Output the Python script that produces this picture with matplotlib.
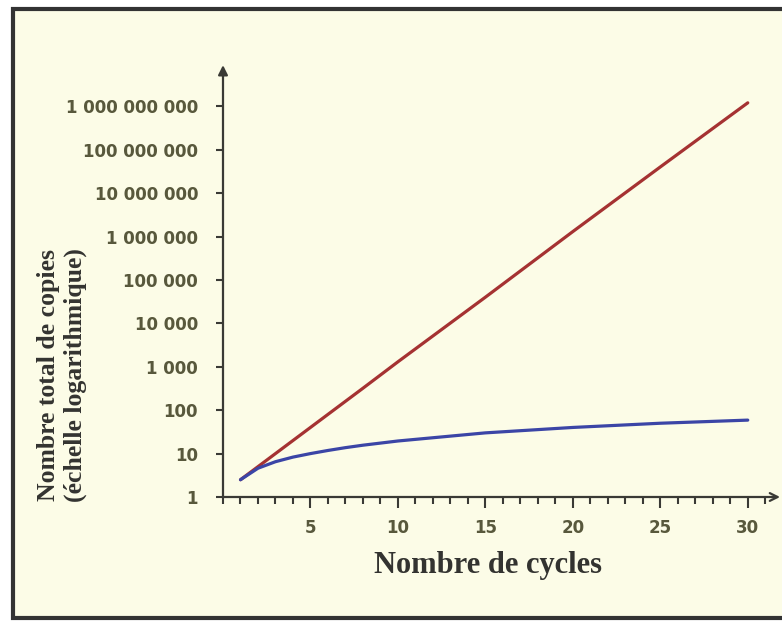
import matplotlib
matplotlib.use('Agg')
import matplotlib.pyplot as plt
from matplotlib.patches import Rectangle
from matplotlib.ticker import FixedLocator, MultipleLocator, FuncFormatter

# Values
cycles = [1, 2, 3, 4, 5, 6, 7, 8, 10, 15, 20, 25, 30]
exponential = [2.5, 5, 10, 20, 40, 80, 160, 320, 1300, 40000, 1.3e6, 4e7, 1.2e9]
linear = [2.5, 4.6, 6.5, 8.3, 10, 11.8, 13.7, 15.6, 19.5, 30, 40, 50, 59]
y_ticks = [1, 10, 100, 1e3, 1e4, 1e5, 1e6, 1e7, 1e8, 1e9]
x_ticks = [5, 10, 15, 20, 25, 30]

bg = '#fcfce7'
axis_col = '#3a3a35'
tick_col = '#58583c'

fig = plt.figure(figsize=(7.82, 6.21), dpi=100, facecolor='white')
# outer frame of the picture, sits behind the axes
fig.patches.append(Rectangle((13 / 782, 3 / 621), 1.0, 609 / 621,
                             transform=fig.transFigure, facecolor=bg,
                             edgecolor='#333333', linewidth=3, zorder=-5))

ax = fig.add_axes([223 / 782, 1 - 497 / 621, 551 / 782, 422 / 621])
ax.set_facecolor('none')
ax.set_yscale('log')
ax.set_xlim(0, 31.5)
ax.set_ylim(1, 10 ** 9.72)

ax.plot(cycles, exponential, color='#a53232', lw=2.3, solid_capstyle='round')
ax.plot(cycles, linear, color='#3b45a6', lw=2.3, solid_capstyle='round')

for s in ['top', 'right']:
  ax.spines[s].set_visible(False)
for s in ['left', 'bottom']:
  ax.spines[s].set_color(axis_col)
  ax.spines[s].set_linewidth(1.6)

# arrows at the end of the axes
ax.annotate('', xy=(0, 1.03), xytext=(0, 0.99), xycoords='axes fraction',
            arrowprops=dict(arrowstyle='-|>', color=axis_col, lw=1.6,
                            mutation_scale=14))
ax.annotate('', xy=(1.016, 0), xytext=(0.99, 0), xycoords='axes fraction',
            arrowprops=dict(arrowstyle='->', color=axis_col, lw=1.6,
                            mutation_scale=14), annotation_clip=False)

ax.yaxis.set_major_locator(FixedLocator(y_ticks))
ax.yaxis.set_minor_locator(FixedLocator([]))
ax.yaxis.set_major_formatter(FuncFormatter(
  lambda v, p: f'{int(round(v)):,}'.replace(',', ' ')))
ax.xaxis.set_major_locator(FixedLocator(x_ticks))
ax.xaxis.set_minor_locator(MultipleLocator(1))

ax.tick_params(axis='y', which='major', direction='out', length=5, width=1.5,
               color=axis_col, labelcolor=tick_col, labelsize=12, pad=13)
ax.tick_params(axis='x', which='major', direction='out', length=8, width=1.5,
               color=axis_col, labelcolor=tick_col, labelsize=12, pad=8)
ax.tick_params(axis='x', which='minor', direction='out', length=5, width=1.5,
               color=axis_col)
for lab in ax.get_xticklabels() + ax.get_yticklabels():
  lab.set_fontweight('bold')

fig.text(488 / 782, 1 - 566 / 621, 'Nombre de cycles', ha='center', va='center',
         family='Liberation Serif', weight='bold', fontsize=22, color='#333330')
fig.text(62 / 782, 1 - 375 / 621, 'Nombre total de copies\n(échelle logarithmique)',
         ha='center', va='center', rotation=90, multialignment='center',
         family='Liberation Serif', weight='bold', fontsize=18.5, color='#333330',
         linespacing=1.15)

fig.savefig('out.png', dpi=100, facecolor=fig.get_facecolor())
